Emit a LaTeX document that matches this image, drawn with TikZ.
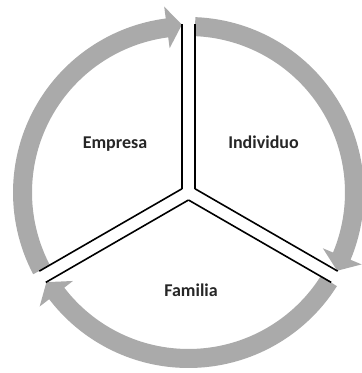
\documentclass[tikz,border=0pt]{standalone}
\usepackage{fontspec}
\usepackage{tikz}
\usetikzlibrary{calc}
\newfontfamily\lblfont{Carlito}
\definecolor{ringgray}{RGB}{170,170,170}
\definecolor{lbltext}{RGB}{38,38,38}

\begin{document}
\begin{tikzpicture}[x=1pt, y=1pt,
    lbl/.style={font=\lblfont\bfseries\fontsize{18}{20}\selectfont, text=lbltext, anchor=base},
    sep/.style={line width=1.6pt, black}]
  \useasboundingbox (-188.5,-180.5) rectangle (173.5,192.5);
  \coordinate (O) at (0,0);
  % curved arrows: tail angle / head base / tip
  \foreach \t/\b/\p in {207.75/97.45/92.25, 87.75/-22.55/-27.75, -32.25/-142.55/-147.75}
    \fill[ringgray] (\t:175.5) arc[start angle=\t, end angle=\b, radius=175.5]
      -- (\b:187.5) -- (\p:168) -- (\b:145.5) -- (\b:156.5)
      arc[start angle=\b, end angle=\t, radius=156.5] -- cycle;
  % double separators
  \foreach \a in {90,-30,210} {
    \draw[sep] ($(O)+(\a-60:7.5)$) -- ($(O)+(\a:168.5)+(\a-90:6.5)$);
    \draw[sep] ($(O)+(\a+60:7.5)$) -- ($(O)+(\a:168.5)+(\a+90:6.5)$);
  }
  \node[lbl] (empresa) at (-73.5,44.5) {Empresa};
  \node[lbl] (individuo) at (75,44.5) {Individuo};
  \node[lbl] (familia) at (2.5,-103.5) {Familia};
\end{tikzpicture}
\end{document}
